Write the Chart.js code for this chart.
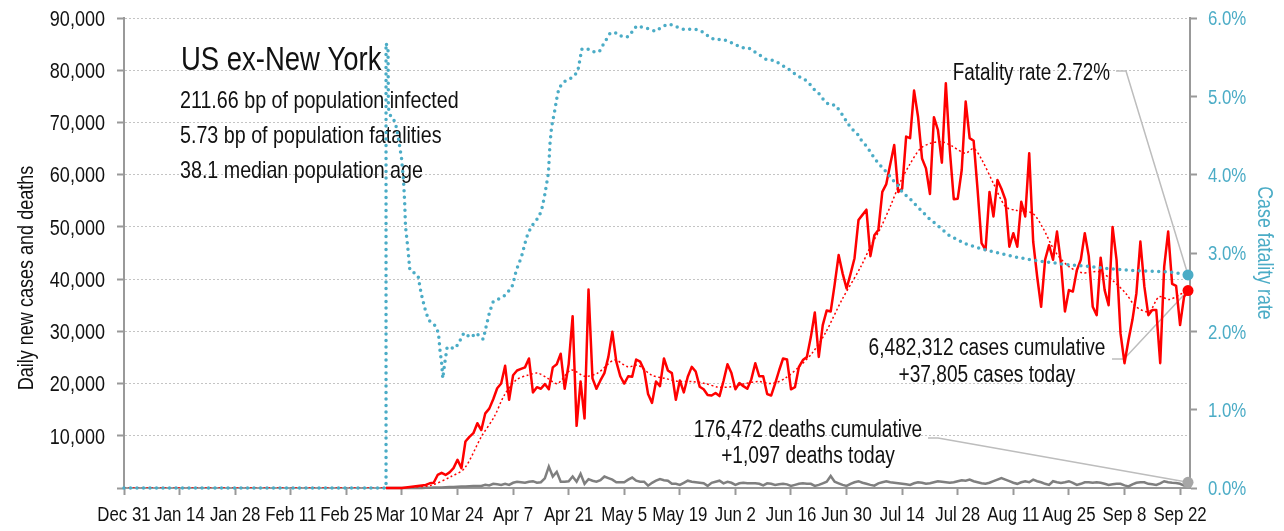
<!DOCTYPE html>
<html>
<head>
<meta charset="utf-8">
<title>US ex-New York</title>
<script src="https://cdn.jsdelivr.net/npm/chart.js@4.4.1/dist/chart.umd.min.js"></script>
<style>
  html, body { margin: 0; padding: 0; background: #fff; }
  #wrap { width: 1284px; height: 531px; }
</style>
</head>
<body>
<div id="wrap"><canvas id="cfrChart" width="1284" height="531"></canvas></div>
<script>
// US ex-New York: daily cases, deaths and case fatality rate

// x axis = days since Dec 31, one tick every 14 days
const tickLabels = ['Dec 31', 'Jan 14', 'Jan 28', 'Feb 11', 'Feb 25', 'Mar 10', 'Mar 24', 'Apr 7',
    'Apr 21', 'May 5', 'May 19', 'Jun 2', 'Jun 16', 'Jun 30', 'Jul 14', 'Jul 28', 'Aug 11',
    'Aug 25', 'Sep 8', 'Sep 22'];
const lastDay = 268;   // last reported day (Sep 24)
const xMax = 268.5;

// daily new cases (thousands), from Mar 6 up to lastDay
const casesK = [
    0, 0, 0, 0, 0,
    0.1, 0.2, 0.3, 0.4, 0.5, 0.6, 0.9, 1.0, 2.5, 2.9,
    2.5, 3.0, 3.8, 5.4, 3.8, 8.9, 9.8, 10.5, 12.4, 11.1,
    14.3, 15.2, 17.0, 19.1, 20.0, 23.4, 16.9, 21.6, 22.5, 22.8,
    23.1, 24.8, 18.3, 19.3, 19.0, 19.9, 18.9, 23.1, 23.7, 25.7,
    19.0, 23.7, 32.9, 11.9, 20.4, 13.3, 38.0, 21.0, 19.0, 20.6,
    22.0, 25.1, 29.9, 24.2, 21.4, 20.0, 21.4, 21.3, 24.6, 24.2,
    22.6, 18.0, 16.3, 20.4, 19.5, 24.8, 22.5, 22.0, 16.9, 20.6,
    18.3, 21.3, 23.2, 22.3, 19.4, 18.9, 17.8, 17.7, 18.2, 17.6, 20.5,
    23.7, 22.0, 18.9, 20.1, 19.5, 19.0, 20.8, 23.9, 21.4, 21.4,
    18.0, 17.7, 20.0, 22.5, 24.8, 24.6, 18.9, 19.3, 23.2, 24.5,
    25.1, 28.9, 33.6, 25.1, 31.2, 34.0, 33.8, 39.0, 44.6, 41.1,
    38.2, 41.0, 44.0, 51.3, 52.3, 53.3, 44.4, 48.4, 49.4, 56.7,
    58.2, 62.0, 65.7, 56.7, 57.3, 67.3, 67.0, 76.1, 71.1, 63.1,
    61.2, 56.3, 71.0, 68.6, 62.3, 77.5, 64.7, 55.3, 55.4, 60.9,
    74.0, 67.0, 66.5, 57.1, 46.9, 45.6, 56.7, 52.0, 59.0, 57.3,
    55.2, 46.2, 48.8, 46.2, 54.8, 52.0, 64.1, 47.2, 40.5, 34.7,
    43.7, 46.5, 43.7, 49.1, 43.0, 33.8, 37.9, 37.6, 41.7, 43.7,
    48.8, 44.4, 34.7, 33.1, 44.1, 37.9, 35.0, 50.0, 43.7, 29.6,
    23.9, 28.3, 32.2, 37.3, 47.2, 38.6, 33.1, 34.1, 34.1, 23.9,
    42.4, 49.1, 39.1, 38.7, 31.2, 36.6, 37.805
];

// daily deaths (thousands), same days as casesK
const deathsK = [
    0, 0, 0, 0, 0, 0, 0, 0, 0, 0,
    0.05, 0.05, 0.1, 0.1, 0.1, 0.15, 0.2, 0.2, 0.25, 0.3,
    0.3, 0.35, 0.4, 0.4, 0.4, 0.6, 0.5, 0.8, 0.7, 0.6,
    0.8, 0.6, 1.0, 1.2, 1.1, 1.0, 1.2, 1.3, 1.0, 1.1,
    1.85, 4.1, 2.2, 3.1, 1.2, 1.2, 1.3, 2.2, 1.2, 2.7,
    0.8, 1.7, 1.4, 1.2, 1.5, 2.2, 1.9, 1.6, 1.1, 1.1,
    1.1, 1.6, 2.0, 1.4, 1.2, 1.2, 0.45, 1.0, 1.4, 1.7,
    1.5, 1.4, 0.8, 0.8, 0.6, 1.0, 1.4, 1.2, 1.1, 1.0,
    0.9, 0.4, 1.0, 1.2, 1.4, 0.9, 1.2, 1.0, 0.6, 0.9, 1.0,
    0.9, 0.9, 0.9, 0.8, 0.5, 0.9, 0.8, 0.6, 0.7, 0.8,
    0.7, 0.4, 0.6, 0.8, 0.9, 0.8, 0.8, 0.4, 0.6, 0.9,
    1.2, 2.3, 1.2, 0.9, 0.6, 0.4, 0.8, 1.1, 1.3, 1.0,
    0.8, 0.6, 0.45, 0.9, 1.1, 1.3, 1.1, 1.0, 0.9, 0.8,
    0.7, 0.6, 0.9, 1.1, 1.0, 0.8, 0.9, 1.1, 1.3, 1.2,
    1.1, 1.0, 1.1, 1.3, 1.5, 1.4, 1.6, 1.3, 1.1, 0.9,
    0.8, 1.0, 1.3, 1.6, 1.9, 1.6, 1.3, 1.0, 0.8, 1.1,
    1.3, 1.1, 1.6, 1.3, 1.1, 0.8, 0.6, 1.3, 1.1, 0.95,
    1.1, 1.3, 1.0, 0.6, 0.8, 1.1, 1.1, 1.0, 1.1, 1.0,
    0.8, 0.6, 0.7, 0.8, 0.8, 0.5, 0.3, 0.7, 1.0, 1.1,
    1.1, 0.8, 0.7, 0.6, 0.9, 1.3, 1.1, 1.0, 0.95, 0.8,
    0.45, 1.097
];

// smoothed cases trend, [day, thousands]
const trendK = [
    [0, 0], [71, 0], [73, 0.2], [77.3, 0.5], [82.4, 2.2], [85.8, 3.8], [90, 9.8], [93.3, 13.7],
    [95.8, 17.8], [98.8, 20.7], [101.7, 21.6], [104.2, 22.0], [106.7, 21.0], [109.2, 20.0],
    [112.6, 22.6], [116, 21.4], [119.3, 22.0], [123.5, 24.5], [126.9, 23.2], [129.5, 23.5],
    [132.9, 21.6], [136.2, 21.0], [139.7, 20.4], [143, 20.4], [146.4, 20.0], [149.7, 19.3],
    [153.1, 19.4], [156.5, 20.0], [159.8, 20.4], [163.2, 20.0], [166.5, 21.0], [170, 23.2],
    [173.3, 25.8], [176.6, 29.6], [180.8, 36.0], [185.6, 42.4], [188, 46.2], [190.5, 49.7],
    [193, 53.9], [195.6, 58.7], [198.1, 62.2], [200.6, 65.0], [203.1, 66.0], [206, 66.3],
    [208.5, 65.5], [211.9, 64.1], [214, 65.0], [216.1, 62.8], [219, 58.3], [222, 53.9],
    [224.5, 53.2], [228.8, 52.6], [231.3, 50.0], [234.6, 45.2], [238, 42.4], [241.4, 41.2],
    [245.6, 41.4], [248.9, 39.8], [252.3, 37.3], [254.9, 34.7], [258.2, 33.8], [260.7, 36.6],
    [263.3, 36.1], [265.8, 37.0], [268, 37.8]
];

// case fatality rate, [day, %]
const cfrPct = [
    [0, 0], [66, 0], [66, 5.68], [66.5, 5.6], [66.6, 4.85], [67.3, 4.72], [68.3, 4.68], [69.2, 4.44],
    [69.9, 4.21], [70.4, 3.93], [70.7, 3.64], [70.9, 3.34], [71.5, 3.06], [72, 2.78], [72.8, 2.76],
    [74.1, 2.7], [74.6, 2.55], [75.1, 2.43], [76, 2.25], [76.8, 2.14], [78.4, 2.07], [79.2, 1.98],
    [79.6, 1.75], [80, 1.6], [80.3, 1.4], [80.8, 1.6], [81.4, 1.8], [83.4, 1.78], [84.3, 1.85],
    [85.6, 1.98], [87.3, 1.92], [88.8, 1.98], [89.6, 1.93], [90.5, 1.9], [91.3, 2.08], [92.1, 2.25],
    [93, 2.38], [94.6, 2.42], [96.3, 2.47], [97.9, 2.59], [98.8, 2.78], [100.1, 2.95], [101.4, 3.2],
    [102.6, 3.34], [103.9, 3.42], [105.1, 3.53], [105.9, 3.72], [106.9, 4.02], [107.3, 4.4],
    [107.7, 4.61], [108.5, 4.82], [109.1, 5.0], [109.6, 5.11], [111, 5.19], [113.2, 5.25],
    [114.3, 5.32], [115.3, 5.6], [116.6, 5.61], [117.8, 5.57], [119.7, 5.57], [120.8, 5.67],
    [122.5, 5.81], [124.2, 5.81], [125.5, 5.76], [127, 5.76], [128.1, 5.83], [129.1, 5.9],
    [130.8, 5.88], [132.2, 5.86], [133.9, 5.83], [135.3, 5.88], [136.9, 5.92], [138.3, 5.91],
    [139.9, 5.87], [141.4, 5.85], [143, 5.86], [144.7, 5.85], [146.2, 5.81], [147.6, 5.75],
    [149.1, 5.72], [150.8, 5.73], [152.4, 5.7], [154, 5.66], [155.6, 5.62], [157.3, 5.62],
    [158.8, 5.57], [160.3, 5.52], [161.8, 5.47], [163.5, 5.46], [165.1, 5.42], [166.6, 5.37],
    [168.2, 5.32], [169.6, 5.26], [171.1, 5.23], [172.5, 5.17], [173.8, 5.09], [175.1, 5.03],
    [176.3, 4.95], [177.6, 4.89], [179.1, 4.89], [180.2, 4.82], [181.4, 4.73], [182.2, 4.66],
    [183.4, 4.58], [184.7, 4.52], [185.7, 4.44], [186.9, 4.37], [188, 4.29], [189, 4.21],
    [190.1, 4.14], [191.4, 4.07], [192.6, 4.0], [193.7, 3.93], [194.9, 3.86], [196, 3.78],
    [197.3, 3.72], [198.6, 3.66], [199.8, 3.59], [201.1, 3.53], [202.3, 3.46], [203.8, 3.4],
    [205.2, 3.34], [207.7, 3.23], [211.8, 3.12], [216.1, 3.05], [220.3, 3.0], [224.5, 2.95],
    [228.8, 2.91], [233, 2.88], [238, 2.85], [243.1, 2.83], [248.1, 2.8], [253.1, 2.78],
    [258.2, 2.77], [263.2, 2.76], [268, 2.72]
];

const INK = '#111';
const BLUE = '#4bacc6';
// no condensed face installed, so squeeze Liberation Sans sideways
const FACE = '"Liberation Sans", Arial, sans-serif';
const SQUEEZE = 0.82;

function narrowText(ctx, str, x, y, size, align, color, rotation) {
    ctx.save();
    ctx.font = size + 'px ' + FACE;
    ctx.fillStyle = color || INK;
    ctx.textAlign = align || 'left';
    ctx.textBaseline = 'alphabetic';
    ctx.translate(x, y);
    if (rotation) ctx.rotate(rotation);
    ctx.scale(SQUEEZE, 1);
    ctx.fillText(str, 0, 0);
    ctx.restore();
}

// daily arrays end on lastDay
function byDay(values) {
    const first = lastDay - values.length + 1;
    return values.map((v, i) => ({ x: first + i, y: v * 1000 }));
}
const endDot = r => ctx => ctx.dataIndex === ctx.dataset.data.length - 1 ? r : 0;

// title block and callouts, under the lines
const notes = {
    id: 'notes',
    beforeDatasetsDraw(chart) {
        const { ctx, scales } = chart;
        const endX = scales.x.getPixelForValue(lastDay);
        const cfrY = scales.y1.getPixelForValue(cfrPct[cfrPct.length - 1][1]);
        const caseY = scales.y.getPixelForValue(casesK[casesK.length - 1] * 1000);
        const deathY = scales.y.getPixelForValue(deathsK[deathsK.length - 1] * 1000);

        narrowText(ctx, 'US ex-New York', 181, 70, 33.5);
        narrowText(ctx, '211.66 bp of population infected', 180, 108, 24);
        narrowText(ctx, '5.73 bp of population fatalities', 180, 143, 24);
        narrowText(ctx, '38.1 median population age', 180, 178, 24);

        ctx.save();
        ctx.strokeStyle = '#bdbdbd';
        ctx.lineWidth = 1.5;
        const leader = pts => {
            ctx.beginPath();
            ctx.moveTo(pts[0][0], pts[0][1]);
            pts.slice(1).forEach(p => ctx.lineTo(p[0], p[1]));
            ctx.stroke();
        };
        leader([[1116, 71], [1126, 71], [endX, cfrY]]);
        leader([[1112, 359], [1124, 359], [endX, caseY]]);
        leader([[928, 438], [938, 438], [endX, deathY]]);
        ctx.restore();

        narrowText(ctx, 'Fatality rate 2.72%', 1110, 80, 23, 'right');
        narrowText(ctx, '6,482,312 cases cumulative', 987, 355, 23.3, 'center');
        narrowText(ctx, '+37,805 cases today', 987, 382, 23.3, 'center');
        narrowText(ctx, '176,472 deaths cumulative', 808, 437, 23.3, 'center');
        narrowText(ctx, '+1,097 deaths today', 808, 463, 23.3, 'center');
    },
    // axis labels and titles in the squeezed face
    afterDraw(chart) {
        const { ctx, scales: { x, y, y1 } } = chart;
        x.ticks.forEach(t => {
            narrowText(ctx, tickLabels[t.value / 14] ?? '', x.getPixelForValue(t.value), 521, 20.5, 'center');
        });
        y.ticks.forEach(t => {
            if (t.value === 0) return;
            narrowText(ctx, t.value.toLocaleString('en-US'), y.right - 19, y.getPixelForValue(t.value) + 7.8, 22, 'right');
        });
        y1.ticks.forEach(t => {
            narrowText(ctx, t.value.toFixed(1) + '%', y1.left + 18, y1.getPixelForValue(t.value) + 7.4, 20.5, 'left', BLUE);
        });
        narrowText(ctx, 'Daily new cases and deaths', 33, 278, 22, 'center', INK, -Math.PI / 2);
        narrowText(ctx, 'Case fatality rate', 1258, 253, 21.7, 'center', BLUE, Math.PI / 2);
    }
};

new Chart(document.getElementById('cfrChart'), {
    type: 'line',
    data: {
        datasets: [{
            label: 'Case fatality rate',
            yAxisID: 'y1',
            data: cfrPct.map(([d, p]) => ({ x: d, y: p })),
            borderColor: BLUE,
            borderWidth: 3.5,
            borderDash: [0, 6.5],
            borderCapStyle: 'round',
            pointRadius: endDot(5.5),
            pointBackgroundColor: BLUE,
            pointBorderWidth: 0,
            clip: 8
        }, {
            label: 'Daily new cases',
            data: byDay(casesK),
            borderColor: '#ff0000',
            borderWidth: 2.5,
            borderJoinStyle: 'round',
            pointRadius: endDot(5.5),
            pointBackgroundColor: '#ff0000',
            pointBorderWidth: 0,
            clip: 8
        }, {
            label: 'Cases trend',
            data: trendK.map(([d, v]) => ({ x: d, y: v * 1000 })),
            borderColor: '#ff0000',
            borderWidth: 1.5,
            borderDash: [2, 2.5],
            pointRadius: 0,
            tension: 0.3
        }, {
            label: 'Daily deaths',
            data: byDay(deathsK),
            borderColor: '#7f7f7f',
            borderWidth: 2.5,
            pointRadius: endDot(5.5),
            pointBackgroundColor: '#a6a6a6',
            pointBorderWidth: 0,
            clip: 8
        }]
    },
    options: {
        responsive: false,
        animation: false,
        devicePixelRatio: 1,
        layout: { padding: { top: 18, left: 0, right: 0, bottom: 0 } },
        plugins: { legend: { display: false }, tooltip: { enabled: false } },
        scales: {
            x: {
                type: 'linear',
                min: 0,
                max: xMax,
                afterFit: s => { s.height = 43; },
                border: { color: '#999', width: 2 },
                grid: { drawOnChartArea: false, tickLength: 7, tickColor: '#999', tickWidth: 2 },
                ticks: { display: false, stepSize: 14, includeBounds: false, autoSkip: false }
            },
            y: {
                position: 'left',
                min: 0,
                max: 90000,
                afterFit: s => { s.width = 124; },
                border: { color: '#999', width: 2, dash: [2, 2] },
                grid: { color: '#c4c4c4', lineWidth: 1, tickLength: 7, tickColor: '#999', tickWidth: 2 },
                ticks: { display: false, stepSize: 10000 }
            },
            y1: {
                position: 'right',
                min: 0,
                max: 6,
                afterFit: s => { s.width = 94; },
                border: { color: '#999', width: 2 },
                grid: { drawOnChartArea: false, tickLength: 7, tickColor: '#999', tickWidth: 2 },
                ticks: { display: false, stepSize: 1 }
            }
        }
    },
    plugins: [notes]
});
</script>
</body>
</html>
